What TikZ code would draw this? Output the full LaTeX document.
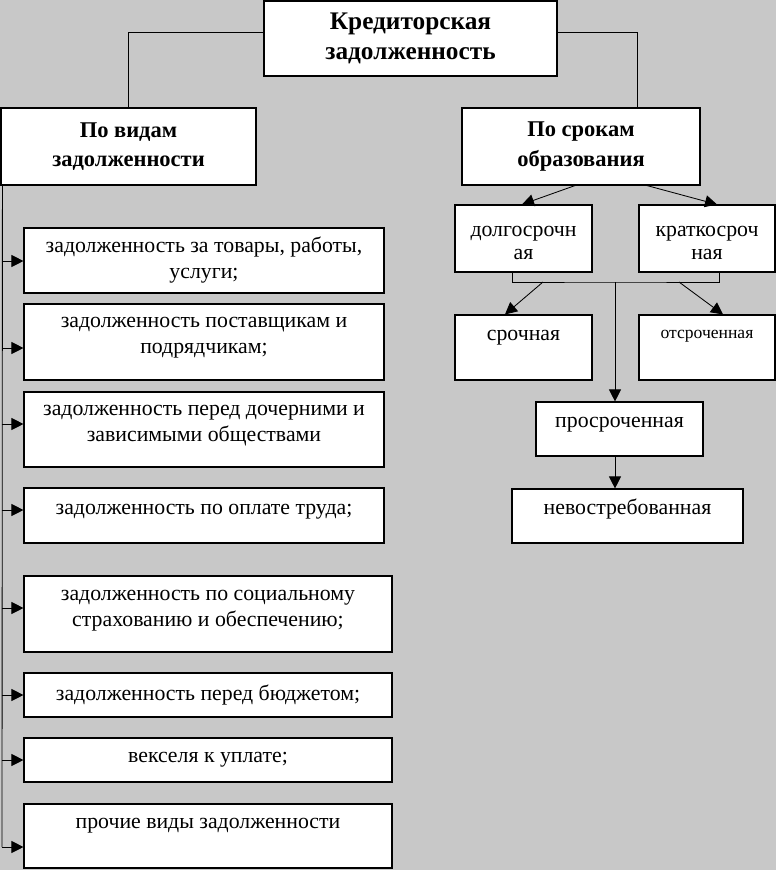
\documentclass[tikz,border=0pt]{standalone}
\usepackage{fontspec}
\setmainfont{Liberation Serif}
\usetikzlibrary{arrows.meta}
\definecolor{fon}{RGB}{200,200,200}

\begin{document}
\begin{tikzpicture}[x=0.025cm, y=-0.025cm,
        box/.style 2 args={draw, fill=white, line width=0.8pt, inner sep=0pt, align=center,
            minimum width=#1*0.025cm, minimum height=#2*0.025cm,
            font=\fontsize{15.5}{18.5}\selectfont},
        head/.style={font=\fontsize{16}{21}\selectfont\bfseries},
        lift/.style={text depth=#1},
        arr/.style={line width=0.6pt, -{Triangle[length=0.3cm,width=0.3cm]}}]
        % фон
        \fill[fon] (0,0) rectangle (776,870);
        \useasboundingbox (0,0) rectangle (776,870);

        % верхний уровень
        \node[box={293}{75}, head, font=\fontsize{18}{21.5}\selectfont\bfseries] (kred) at (410.5,38.5) {Кредиторская\\задолженность};
        \node[box={255}{77}, head] (vid) at (128.5,146.5) {По видам\\задолженности};
        \node[box={238}{77}, head] (srok) at (581,146.5) {По срокам\\образования};
        \draw[line width=0.6pt] (kred.west |- 0,32) -| (vid.north);
        \draw[line width=0.6pt] (kred.east |- 0,32) -| (srok.north -| 637,0);

        % по видам
        \node[box={360}{65}] (v1) at (204,260.5) {задолженность за товары, работы,\\услуги;};
        \node[box={360}{76}, lift=9pt] (v2) at (204,342) {задолженность поставщикам и\\подрядчикам;};
        \node[box={360}{75}, lift=9pt] (v3) at (204,429.5) {задолженность перед дочерними и\\зависимыми обществами};
        \node[box={360}{55}, lift=9pt] (v4) at (204,515.5) {задолженность по оплате труда;};
        \node[box={368}{76}, lift=8pt] (v5) at (208,614) {задолженность по социальному\\страхованию и обеспечению;};
        \node[box={368}{44}] (v6) at (208,695) {задолженность перед бюджетом;};
        \node[box={368}{44}] (v7) at (208,760) {векселя к уплате;};
        \node[box={368}{64}, lift=18pt] (v8) at (208,836) {прочие виды задолженности};
        \draw[line width=0.6pt] (vid.south west) ++(2,0) -- (2,847);
        \foreach \n/\y in {v1/261, v2/348, v3/424, v4/510, v5/608, v6/695, v7/760, v8/847}
            \draw[arr] (2,\y) -- (\n.west |- 2,\y);

        % по срокам
        \node[box={137}{67}, font=\fontsize{15.5}{16.5}\selectfont] (dolg) at (523.5,238.5) {\rule{0pt}{14pt}долгосрочн\\ая};
        \node[box={136}{67}, font=\fontsize{15.5}{16.5}\selectfont] (krat) at (707,238.5) {\rule{0pt}{14pt}краткосроч\\ная};
        \node[box={137}{65}, lift=17pt] (sroch) at (523.5,347.5) {срочная};
        \node[box={136}{65}, lift=19pt, font=\fontsize{12.5}{14}\selectfont] (otsr) at (707,347.5) {отсроченная};
        \node[box={167}{54}, lift=10pt] (prosr) at (619.5,429) {просроченная};
        \node[box={231}{54}, lift=13pt] (nevostr) at (627.5,516) {невостребованная};
        \coordinate (bar) at (615,282);
        \draw[arr] (srok.south -| 575,0) -- (dolg.north -| 522,0);
        \draw[arr] (srok.south -| 647,0) -- (krat.north -| 717,0);
        \draw[line width=0.6pt] (dolg.south -| 512,0) |- (bar) -| (krat.south -| 719,0);
        \draw[arr] (bar) -- (prosr.north -| bar);
        \draw[arr] (543,282) -- (sroch.north -| 505,0);
        \draw[arr] (679,282) -- (otsr.north -| 723,0);
        \draw[arr] (prosr.south -| bar) -- (nevostr.north -| bar);
\end{tikzpicture}
\end{document}
